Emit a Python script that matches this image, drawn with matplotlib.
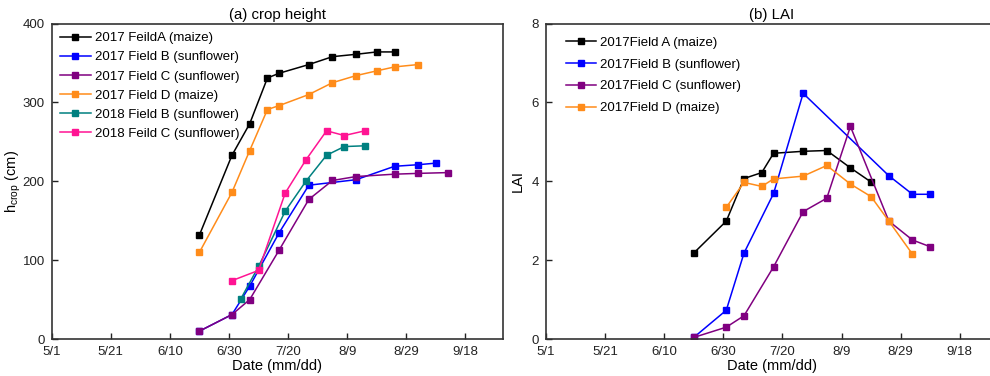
import matplotlib
matplotlib.use("Agg")
import matplotlib.pyplot as plt

plt.rcParams['font.family'] = ['Liberation Sans', 'DejaVu Sans']
plt.rcParams['mathtext.default'] = 'regular'

# days since 5/1
tick_days = [0, 20, 40, 60, 80, 100, 120, 140]
tick_labels = ['5/1', '5/21', '6/10', '6/30', '7/20', '8/9', '8/29', '9/18']

# (a) crop height (cm)
a17_day = [50, 61, 67, 73, 77, 87, 95, 103, 110, 116]
a17_h = [132, 233, 273, 331, 337, 348, 358, 361, 364, 364]
b17_day = [50, 61, 67, 77, 87, 103, 116, 124, 130]
b17_h = [10, 31, 67, 135, 195, 202, 219, 221, 223]
c17_day = [50, 61, 67, 77, 87, 95, 103, 116, 124, 134]
c17_h = [10, 31, 50, 113, 177, 201, 206, 209, 210, 211]
d17_day = [50, 61, 67, 73, 77, 87, 95, 103, 110, 116, 124]
d17_h = [110, 186, 239, 291, 296, 310, 325, 334, 340, 345, 348]
b18_day = [64, 70, 79, 86, 93, 99, 106]
b18_h = [51, 92, 162, 200, 233, 244, 245]
c18_day = [61, 70, 79, 86, 93, 99, 106]
c18_h = [74, 87, 185, 227, 264, 258, 264]

# (b) LAI
a_lai_day = [50, 61, 67, 73, 77, 87, 95, 103, 110]
a_lai = [2.18, 2.99, 4.07, 4.22, 4.71, 4.76, 4.78, 4.34, 3.98]
b_lai_day = [50, 61, 67, 77, 87, 116, 124, 130]
b_lai = [0.04, 0.73, 2.18, 3.69, 6.23, 4.14, 3.67, 3.67]
c_lai_day = [50, 61, 67, 77, 87, 95, 103, 116, 124, 130]
c_lai = [0.04, 0.30, 0.59, 1.83, 3.23, 3.57, 5.39, 2.99, 2.51, 2.34]
d_lai_day = [61, 67, 73, 77, 87, 95, 103, 110, 116, 124]
d_lai = [3.34, 3.97, 3.87, 4.06, 4.13, 4.40, 3.93, 3.61, 2.99, 2.15]

black = '#000000'
blue = '#0000FF'
purple = '#800080'
orange = '#FF8C1A'
teal = '#008080'
pink = '#FF1493'

fig = plt.figure(figsize=(9.9, 3.76), dpi=100)
ax1 = fig.add_axes([0.0522, 0.0984, 0.4562, 0.839])
ax2 = fig.add_axes([0.5515, 0.0984, 0.4562, 0.839])

kw = dict(marker='s', markersize=4, linewidth=1.1)

ax1.plot(a17_day, a17_h, color=black, label='2017 FeildA (maize)', **kw)
ax1.plot(b17_day, b17_h, color=blue, label='2017 Field B (sunflower)', **kw)
ax1.plot(c17_day, c17_h, color=purple, label='2017 Field C (sunflower)', **kw)
ax1.plot(d17_day, d17_h, color=orange, label='2017 Field D (maize)', **kw)
ax1.plot(b18_day, b18_h, color=teal, label='2018 Field B (sunflower)', **kw)
ax1.plot(c18_day, c18_h, color=pink, label='2018 Feild C (sunflower)', **kw)

ax2.plot(a_lai_day, a_lai, color=black, label='2017Field A (maize)', **kw)
ax2.plot(b_lai_day, b_lai, color=blue, label='2017Field B (sunflower)', **kw)
ax2.plot(c_lai_day, c_lai, color=purple, label='2017Field C (sunflower)', **kw)
ax2.plot(d_lai_day, d_lai, color=orange, label='2017Field D (maize)', **kw)

ax1.set_ylim(0, 400)
ax1.set_yticks([0, 100, 200, 300, 400])
ax2.set_ylim(0, 8)
ax2.set_yticks([0, 2, 4, 6, 8])

for ax in (ax1, ax2):
    ax.set_xlim(0, 152.8)
    ax.set_xticks(tick_days)
    ax.set_xticklabels(tick_labels)
    ax.tick_params(direction='in', length=4, width=1, labelsize=9.5, colors='#222222', pad=5)
    for s in ax.spines.values():
        s.set_color('#333333')
        s.set_linewidth(1.2)
    ax.set_xlabel('Date (mm/dd)', fontsize=10.5, labelpad=1)

ax1.set_ylabel('h$_{crop}$ (cm)', fontsize=10.5)
ax1.yaxis.set_label_coords(-0.063, 0.5)
ax2.set_ylabel('LAI', fontsize=10.5)
ax2.yaxis.set_label_coords(-0.046, 0.5)
ax1.set_title('(a) crop height', fontsize=10.8, pad=3)
ax2.set_title('(b) LAI', fontsize=10.8, pad=3)

ax1.legend(loc='upper left', bbox_to_anchor=(0.0, 1.0), frameon=False, fontsize=9.5,
           handlelength=2.3, labelspacing=0.52, borderaxespad=0.25, handletextpad=0.3)
ax2.legend(loc='upper left', bbox_to_anchor=(0.014, 1.0), frameon=False, fontsize=9.5,
           handlelength=2.3, labelspacing=0.72, borderaxespad=0.6, handletextpad=0.3)

fig.savefig('out.png', dpi=100)
